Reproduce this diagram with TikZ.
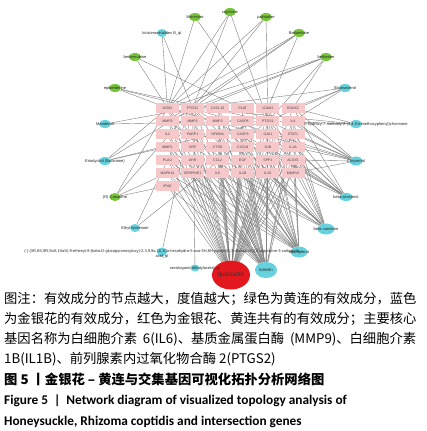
\documentclass[tikz,border=0pt]{standalone}
\usepackage{fontspec}
\setmainfont{Liberation Sans}
\newfontfamily\cjk{Noto Sans CJK SC}
\newfontfamily\carl{Carlito}
\usetikzlibrary{shapes.geometric}
\pgfdeclarelayer{bg}
\pgfsetlayers{bg,main}
\definecolor{genefill}{HTML}{F6C8CA}
\definecolor{hlgreen}{HTML}{78C43A}
\definecolor{jycyan}{HTML}{66D2DD}
\definecolor{qred}{HTML}{E3181F}
\definecolor{edgegray}{HTML}{808080}
\begin{document}
\begin{tikzpicture}[x=1pt,y=-1pt,
  genebox/.style={rectangle,fill=genefill,minimum width=23pt,minimum height=10pt,inner sep=0pt,
    font=\fontsize{3.5}{4}\selectfont,text=black!75},
  cmpnode/.style={ellipse,inner sep=0pt,minimum width=12pt,minimum height=8pt},
  hlnode/.style={cmpnode,fill=hlgreen},
  jynode/.style={cmpnode,fill=jycyan},
  lbl/.style={font=\fontsize{4}{4.6}\selectfont,inner sep=0pt,text=black!85},
  edgeline/.style={draw=edgegray,line width=0.4pt},
  captxt/.style={anchor=base west,inner sep=0pt,font=\cjk\fontsize{13.3}{16}\selectfont},
  capbold/.style={anchor=base west,inner sep=0pt,font=\cjk\bfseries\fontsize{13.3}{16}\selectfont},
  capen/.style={anchor=base west,inner sep=0pt,font=\carl\bfseries\fontsize{13.3}{16}\selectfont}]
\useasboundingbox (0,0) rectangle (426,431);

% gene grid
\foreach \g [count=\k from 0] in {NOS2,PTGS2,CXCL10,PLAT,ICAM1,RUNX2,MMP9,MMP3,MMP2,CASP8,PTGS1,IL4,IL2,PARP1,NFKBIA,CASP3,GJA1,STAT1,MMP1,CRP,CTSD,CXCL8,JUN,IL1A,PLAU,AHR,CCL2,EGF,SPP1,ALOX5,MAPK14,SERPINE1,IL6,IL1B,IL10,MMP10,IFNG}{
  \pgfmathtruncatemacro\col{mod(\k,6)}
  \pgfmathtruncatemacro\row{div(\k,6)}
  \node[genebox] (g-\g) at ({167.5+25.1*\col},{108+13*\row}) {\g};
}

% compound nodes
\node[cmpnode,fill=qred,minimum width=38pt,minimum height=29pt] (qer) at (231,275) {};
\node[hlnode] (cop) at (230,12) {};
\node[hlnode] (wor) at (195,17) {};
\node[hlnode] (pal) at (266,17) {};
\node[jynode,minimum width=10pt] (lon) at (162,33) {};
\node[hlnode] (blm) at (299,33) {};
\node[hlnode] (bru) at (135,57) {};
\node[hlnode] (brb) at (326,57) {};
\node[hlnode] (epi) at (115,88) {};
\node[jynode] (sti) at (345,88) {};
\node[jynode] (man) at (105,124) {};
\node[jynode] (chm) at (356,124) {};
\node[jynode] (eri) at (105,161) {};
\node[jynode,minimum width=13pt,minimum height=9pt] (chy) at (356,161) {};
\node[hlnode,minimum width=11pt] (can) at (115,197) {};
\node[jynode,minimum width=13pt] (bsi) at (346,197) {};
\node[jynode,minimum width=10pt] (eth) at (135,228) {};
\node[jynode,minimum width=17pt,minimum height=11pt] (bca) at (326,229) {};
\node[jynode,minimum width=10pt,minimum height=9pt] (aci) at (162,252) {};
\node[jynode,minimum width=17pt,minimum height=11pt] (kae) at (299,252) {};
\node[jynode,minimum width=9pt,minimum height=7pt] (sec) at (195,268) {};
\node[jynode,minimum width=22pt,minimum height=16pt] (lut) at (266,270) {};

% edges
\begin{pgfonlayer}{bg}
\foreach \c/\gl in {
  wor/{NOS2,PTGS1},
  cop/{NOS2,PTGS2,PTGS1},
  pal/{NOS2,PTGS2,PTGS1},
  lon/{NOS2,PTGS2},
  blm/{NOS2,PTGS2,MMP9,ICAM1},
  bru/{NOS2,PTGS1},
  brb/{NOS2,PTGS2,MMP9,PTGS1,RUNX2},
  epi/{NOS2,PTGS2,PTGS1},
  sti/{PTGS2,PTGS1,RUNX2,IL4},
  man/{PTGS1,PTGS2},
  chm/{PTGS2,PTGS1,RUNX2},
  eri/{NOS2,PTGS2,PTGS1,MMP1},
  chy/{PTGS2,PTGS1,NOS2,IL4,STAT1,IL1A,ALOX5,MMP10,RUNX2,ICAM1},
  can/{PTGS2,NOS2,MAPK14,IFNG},
  eth/{PTGS1,PTGS2},
  aci/{PTGS2},
  sec/{PTGS2},
  bsi/{PTGS1,PTGS2,CASP3,CASP8,JUN,IL1A,ALOX5,MMP10,STAT1,RUNX2},
  bca/{PTGS2,MMP2,MMP9,ICAM1,IL6,PTGS1,CXCL8,STAT1,IL10,IL4,CRP,IL1A,JUN,CASP3},
  kae/{PTGS2,NOS2,PTGS1,CASP3,CASP8,ICAM1,MMP1,CXCL8,JUN,IL4,AHR,NFKBIA,PLAU,ALOX5,IL1B,MAPK14,IL6,STAT1,SPP1,CXCL10},
  lut/{PTGS2,NOS2,PTGS1,ICAM1,MMP9,MMP2,MMP1,CASP3,CASP8,IL4,IL2,NFKBIA,STAT1,CXCL8,JUN,CCL2,EGF,IL6,IL1B,IL10,MAPK14,AHR,ALOX5,IFNG,CXCL10,SERPINE1,MMP3,PLAU,SPP1,CTSD},
  qer/{NOS2,PTGS2,CXCL10,PLAT,ICAM1,RUNX2,MMP9,MMP3,MMP2,CASP8,PTGS1,IL4,IL2,PARP1,NFKBIA,CASP3,GJA1,STAT1,MMP1,CRP,CTSD,CXCL8,JUN,IL1A,PLAU,AHR,CCL2,EGF,SPP1,ALOX5,MAPK14,SERPINE1,IL6,IL1B,IL10,MMP10,IFNG}}{
  \foreach \g in \gl {\draw[edgeline] (\c) -- (g-\g);}
}
\end{pgfonlayer}

% labels
\node[lbl] (l-cop) at (cop) {coptisine};
\node[lbl] (l-wor) at (wor) {Worenine};
\node[lbl] (l-pal) at (pal) {palmatine};
\node[lbl] (l-lon) at (lon) {loniceracetalides B\_qt};
\node[lbl] (l-blm) at (blm) {Berlambine};
\node[lbl] (l-bru) at (bru) {berberrubine};
\node[lbl] (l-brb) at (brb) {berberine};
\node[lbl] (l-epi) at (epi) {epiberberine};
\node[lbl] (l-sti) at (sti) {Stigmasterol};
\node[lbl] (l-man) at (man) {Mandenol};
\node[lbl] (l-chm) at (chm) {5-hydroxy-7-methoxy-2-(3,4,5-trimethoxyphenyl)chromone};
\node[lbl] (l-eri) at (eri) {Eriodyctiol (flavanone)};
\node[lbl] (l-chy) at (chy) {Chryseriol};
\node[lbl] (l-can) at (can) {(R)-Canadine};
\node[lbl] (l-bsi) at (bsi) {beta-sitosterol};
\node[lbl] (l-eth) at (eth) {Ethyl linolenate};
\node[lbl] (l-bca) at (bca) {beta-carotene};
\node[lbl,align=center] (l-aci) at (162,254) {(-)-(3R,8S,9R,9aS,10aS)-9-ethenyl-8-(beta-D-glucopyranosyloxy)-2,3,9,9a,10,10a-hexahydro-5-oxo-5H,8H-pyrano[4,3-d]oxazolo[3,2-a]pyridine-3-carboxylic\\acid\_qt};
\node[lbl] (l-kae) at (kae) {kaempferol};
\node[lbl] (l-sec) at (sec) {secologanic dibutylacetal\_qt};
\node[lbl,font=\fontsize{4.3}{5}\selectfont] (l-lut) at (lut) {luteolin};
\node[lbl,font=\fontsize{6.5}{7}\selectfont,text=black!80] (l-qer) at (qer) {quercetin};

% caption
\node[captxt] (c1) at (4,303) {图注：有效成分的节点越大，度值越大；绿色为黄连的有效成分，蓝色};
\node[captxt] (c2) at (4,323) {为金银花的有效成分，红色为金银花、黄连共有的有效成分；主要核心};
\node[captxt] (c3) at (4,343) {\makebox[412pt][s]{基因名称为白细胞介素 6(IL6)、基质金属蛋白酶 (MMP9)、白细胞介素}};
\node[captxt] (c4) at (4,363) {1B(IL1B)、前列腺素内过氧化物合酶 2(PTGS2)};
\node[capbold] (c5) at (4,384) {图 5 丨金银花 – 黄连与交集基因可视化拓扑分析网络图};
\node[capen] (c6) at (4,404) {Figure 5 \ | \ Network diagram of visualized topology analysis of};
\node[capen] (c7) at (4,425) {Honeysuckle, Rhizoma coptidis and intersection genes};
\end{tikzpicture}
\end{document}
